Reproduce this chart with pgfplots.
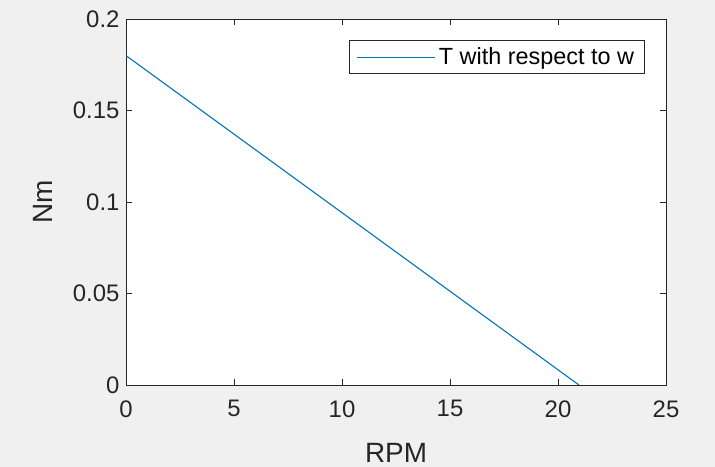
\documentclass[border=0pt]{standalone}
\usepackage{pgfplots}
\pgfplotsset{compat=1.18}
\usepackage{fontspec}
\setmainfont{Liberation Sans}
\definecolor{bg}{HTML}{F0F0F0}
\definecolor{ax}{HTML}{262626}
\definecolor{mblue}{HTML}{0072BD}
\begin{document}
\begin{tikzpicture}[x=1bp,y=1bp]
\fill[bg] (0,0) rectangle (715,467);
\useasboundingbox (0,0) rectangle (715,467);
\begin{axis}[
  at={(126bp,82bp)}, anchor=south west,
  scale only axis, width=540bp, height=366bp,
  xmin=0, xmax=25, ymin=0, ymax=0.2,
  xtick={0,5,...,25}, ytick={0,0.05,0.1,0.15,0.2},
  yticklabels={0,0.05,0.1,0.15,0.2},
  axis background/.style={fill=white},
  axis line style={ax, line width=0.8bp},
  tick style={ax, line width=0.8bp},
  tick align=inside, major tick length=6bp,
  ticklabel style={font=\fontsize{24}{26}\selectfont, text=ax},
  xticklabel style={yshift=-12bp},
  yticklabel style={xshift=-3bp},
  label style={font=\fontsize{28}{30}\selectfont, text=ax},
  xlabel={RPM}, ylabel={Nm},
  xlabel style={at={(axis description cs:0.5,-0.2104)}, anchor=base, inner sep=0pt},
  ylabel style={at={(axis description cs:-0.137,0.5)}, anchor=base},
  /pgf/number format/assume math mode=true,
  legend style={at={(0.961,0.9426)}, anchor=north east, draw=ax, line width=0.8bp,
    font=\fontsize{23.5}{25}\selectfont, text=black, inner xsep=7.5bp, inner ysep=3.5bp,
    nodes={inner xsep=3bp, inner ysep=4bp}},
  legend cell align=left,
  legend image code/.code={\draw[#1, line width=1.1bp] (0bp,0bp) -- (78bp,0bp);},
]
\addplot[color=mblue, line width=1.1bp] coordinates {(0,0.18) (20.97,0)};
\addlegendentry{T with respect to w}
\end{axis}
\end{tikzpicture}
\end{document}
